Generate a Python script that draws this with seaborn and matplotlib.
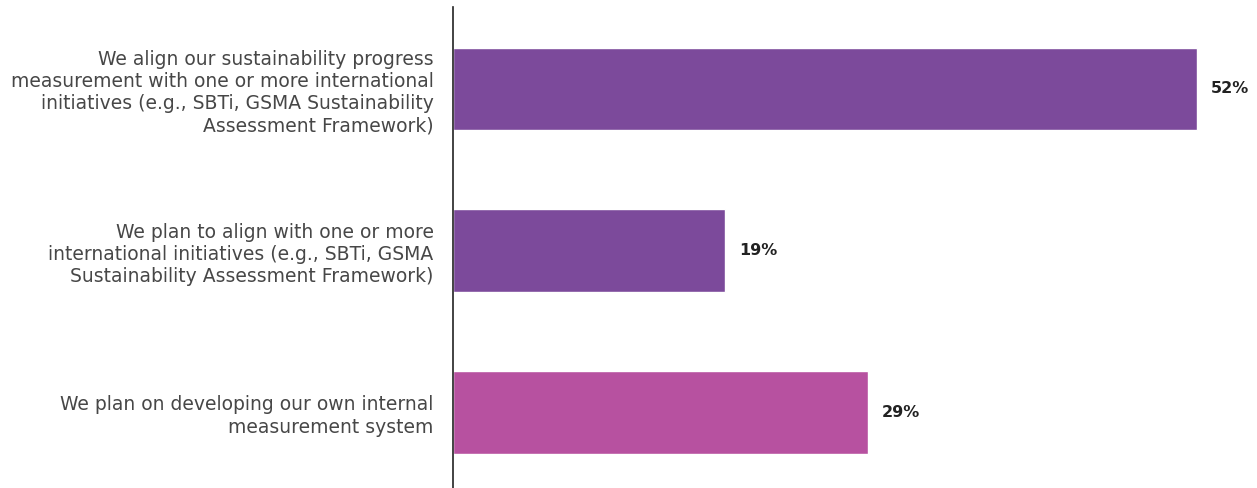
import matplotlib
matplotlib.use("Agg")
import matplotlib.pyplot as plt
import seaborn as sns
import pandas as pd

categories = [
    "We align our sustainability progress\nmeasurement with one or more international\ninitiatives (e.g., SBTi, GSMA Sustainability\nAssessment Framework)",
    "We plan to align with one or more\ninternational initiatives (e.g., SBTi, GSMA\nSustainability Assessment Framework)",
    "We plan on developing our own internal\nmeasurement system",
]
values = [52, 19, 29]
labels = ["52%", "19%", "29%"]
colors = ["#7C4A9B", "#7C4A9B", "#B751A0"]

sns.set_style("white")
plt.rcParams['font.family'] = ['DejaVu Sans']

df = pd.DataFrame({"cat": categories, "val": values})

fig = plt.figure(figsize=(12.57, 4.88), dpi=100)
ax = fig.add_axes([453/1257, 0.0, 1 - 453/1257, 1 - 7/488])
sns.barplot(data=df, x="val", y="cat", hue="cat", palette=colors, legend=False,
            width=0.51, saturation=1, ax=ax, orient="h")

for i, (v, lab) in enumerate(zip(values, labels)):
    ax.text(v + 1.0, i, lab, va="center", ha="left", fontsize=11.5,
            fontweight="bold", color="#222222")

ax.set_xlim(0, 56.2)
ax.set_ylim(2.467, -0.507)
ax.set_xlabel("")
ax.set_ylabel("")
ax.set_xticks([])
ax.tick_params(axis="y", length=0, pad=14)
for t in ax.get_yticklabels():
    t.set_fontsize(13.5)
    t.set_color("#474747")
    t.set_ha("right")
    t.set_multialignment("right")
    t.set_linespacing(1.22)
for s in ["top", "right", "bottom"]:
    ax.spines[s].set_visible(False)
ax.spines["left"].set_color("#222222")
ax.spines["left"].set_linewidth(1.2)

fig.savefig("out.png", dpi=100)
